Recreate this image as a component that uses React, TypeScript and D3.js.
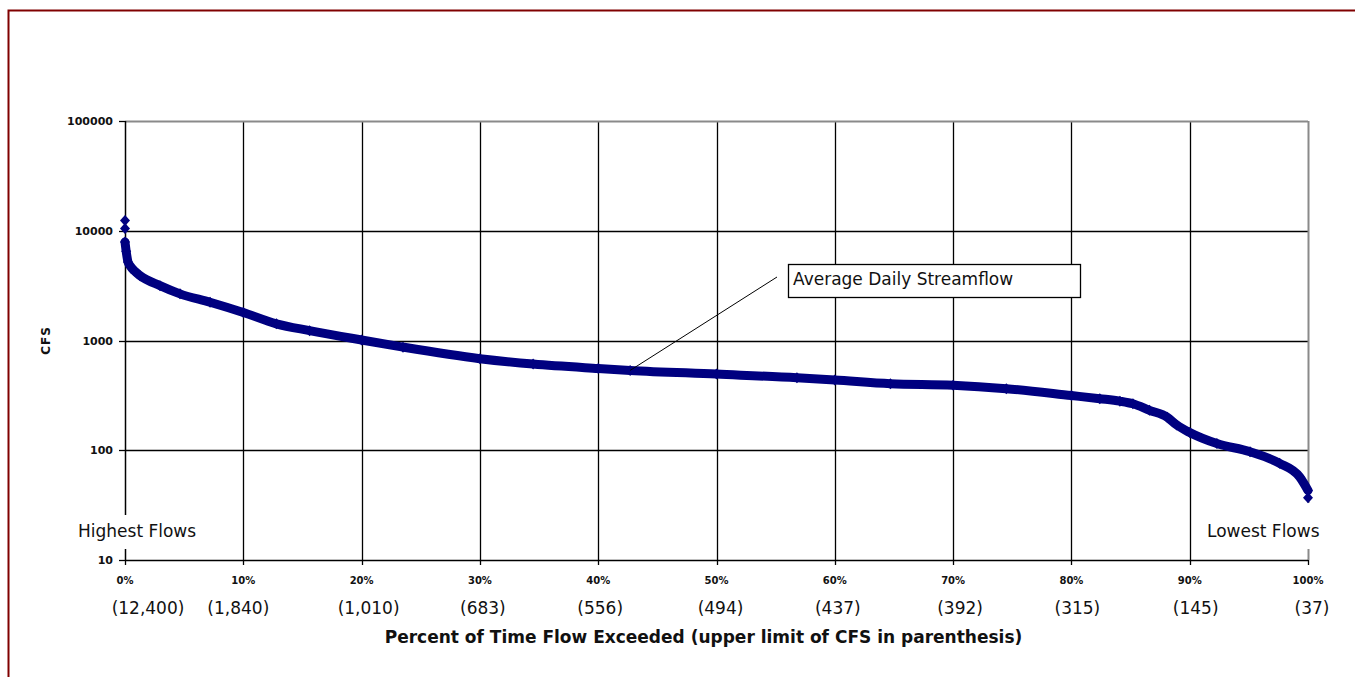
import React from "react";
import * as d3 from "d3";

// Flow duration curve
const percentExceeded = [0, 0, 0, 0.1, 0.25, 0.42, 0.8, 1.27, 2.96, 4.65, 7.19, 10, 12.8, 15.6, 20, 23.5, 30, 34.5, 40, 42.7, 50, 56.8, 60, 64.7, 70, 74.5, 80, 82.4, 84.1, 85.2, 86.6, 88.1, 88.9, 90, 92.3, 95.1, 97.6, 99.3, 100, 100];
const cfsValues = [12400, 10500, 7900, 6500, 5200, 4810, 4300, 3900, 3160, 2660, 2230, 1800, 1420, 1230, 1010, 870, 683, 610, 556, 534, 494, 458, 437, 404, 392, 364, 315, 295, 280, 265, 231, 200, 170, 145, 115, 97, 76, 57, 43, 37];

const xTickValues = [0, 10, 20, 30, 40, 50, 60, 70, 80, 90, 100];
const xTickLabels = ["0%", "10%", "20%", "30%", "40%", "50%", "60%", "70%", "80%", "90%", "100%"];
const cfsLimitLabels = ["(12,400)", "(1,840)", "(1,010)", "(683)", "(556)", "(494)", "(437)", "(392)", "(315)", "(145)", "(37)"];
const yTickValues = [10, 100, 1000, 10000, 100000];
const yTickLabels = ["10", "100", "1000", "10000", "100000"];

const annotationPoint = { pct: 42.7, cfs: 534 };

// layout
const W = 1355;
const H = 677;
const plot = { left: 125, right: 1308, top: 121, bottom: 560 };
const limitLabelOffsets = [23, -5, 7, 3, 2, 4, 3, 7, 6, 6, 4];
const FONT = "'DejaVu Sans', Verdana, sans-serif";
const NAVY = "#000080";

export default function App() {
  const x = d3.scaleLinear().domain([0, 100]).range([plot.left, plot.right]);
  const y = d3.scaleLog().domain([10, 100000]).range([plot.bottom, plot.top]);

  const pts = percentExceeded.map((p, i) => [x(p), y(cfsValues[i])] as [number, number]);
  const line = d3.line().curve(d3.curveMonotoneX)(pts.slice(2, pts.length - 1)) || "";
  const diamond = "M0,-5.5L5,0L0,5.5L-5,0Z";

  const ax = x(annotationPoint.pct);
  const ay = y(annotationPoint.cfs);

  return (
    <svg width={W} height={H} style={{ position: "absolute", left: 0, top: 0, background: "#fff" }} fontFamily={FONT}>
      <rect x={0} y={0} width={W} height={H} fill="#fff" />
      {/* outer frame */}
      <rect x={8.5} y={10.5} width={1400} height={800} fill="#fff" stroke="#800000" strokeWidth={2} />

      {/* horizontal gridlines */}
      {yTickValues.slice(1, 4).map((v) => (
        <line key={"hg" + v} x1={plot.left} x2={plot.right} y1={Math.round(y(v)) + 0.5} y2={Math.round(y(v)) + 0.5} stroke="#000" strokeWidth={1.3} />
      ))}
      {/* vertical gridlines */}
      {xTickValues.slice(1, 10).map((v) => (
        <line key={"vg" + v} x1={Math.round(x(v)) + 0.5} x2={Math.round(x(v)) + 0.5} y1={plot.top} y2={plot.bottom} stroke="#000" strokeWidth={1.3} />
      ))}
      {/* plot border top & right (gray) */}
      <line x1={plot.left} x2={plot.right} y1={plot.top + 0.5} y2={plot.top + 0.5} stroke="#8a8a8a" strokeWidth={2} />
      <line x1={plot.right + 0.5} x2={plot.right + 0.5} y1={plot.top} y2={plot.bottom} stroke="#8a8a8a" strokeWidth={2} />
      {/* axes */}
      <line x1={plot.left + 0.5} x2={plot.left + 0.5} y1={plot.top} y2={plot.bottom} stroke="#000" strokeWidth={1.5} />
      <line x1={plot.left} x2={plot.right} y1={plot.bottom + 0.5} y2={plot.bottom + 0.5} stroke="#000" strokeWidth={1.5} />

      {/* y ticks */}
      {yTickValues.map((v, i) => (
        <g key={"yt" + v}>
          <line x1={plot.left - 6} x2={plot.left} y1={Math.round(y(v)) + 0.5} y2={Math.round(y(v)) + 0.5} stroke="#000" strokeWidth={1.3} />
          <text x={113} y={y(v) + 4} textAnchor="end" fontSize={11} fontWeight="bold" fill="#111">
            {yTickLabels[i]}
          </text>
        </g>
      ))}
      {/* x ticks */}
      {xTickValues.map((v, i) => (
        <g key={"xt" + v}>
          <line x1={Math.round(x(v)) + 0.5} x2={Math.round(x(v)) + 0.5} y1={plot.bottom} y2={plot.bottom + 5} stroke="#000" strokeWidth={1.3} />
          <text x={x(v)} y={584} textAnchor="middle" fontSize={10} fontWeight="bold" fill="#111">
            {xTickLabels[i]}
          </text>
          <text x={x(v) + limitLabelOffsets[i]} y={614} textAnchor="middle" fontSize={17} fill="#111">
            {cfsLimitLabels[i]}
          </text>
        </g>
      ))}

      {/* Highest / Lowest flow labels with white boxes */}
      <rect x={75} y={515} width={125} height={34} fill="#fff" />
      <text x={78} y={537} fontSize={17} fill="#111">Highest Flows</text>
      <rect x={1204} y={503} width={128} height={46} fill="#fff" />
      <text x={1207} y={537} fontSize={17} fill="#111">Lowest Flows</text>

      {/* curve */}
      <path d={line} fill="none" stroke={NAVY} strokeWidth={9} strokeLinejoin="round" strokeLinecap="round" />
      {pts.map((p, i) => (
        <path key={"d" + i} d={diamond} transform={`translate(${p[0]},${p[1]})`} fill={NAVY} />
      ))}

      {/* annotation */}
      <line x1={777} y1={277} x2={ax} y2={ay} stroke="#000" strokeWidth={1} />
      <rect x={788.5} y={264.5} width={292} height={33} fill="#fff" stroke="#000" strokeWidth={1.3} />
      <text x={793} y={285} fontSize={17} fill="#111">Average Daily Streamflow</text>

      {/* axis titles */}
      <text x={703.5} y={643} textAnchor="middle" fontSize={17} fontWeight="bold" fill="#111">
        Percent of Time Flow Exceeded (upper limit of CFS in parenthesis)
      </text>
      <text transform="translate(50,340.5) rotate(-90)" textAnchor="middle" fontSize={12} fontWeight="bold" letterSpacing={1} fill="#111">
        CFS
      </text>
    </svg>
  );
}
